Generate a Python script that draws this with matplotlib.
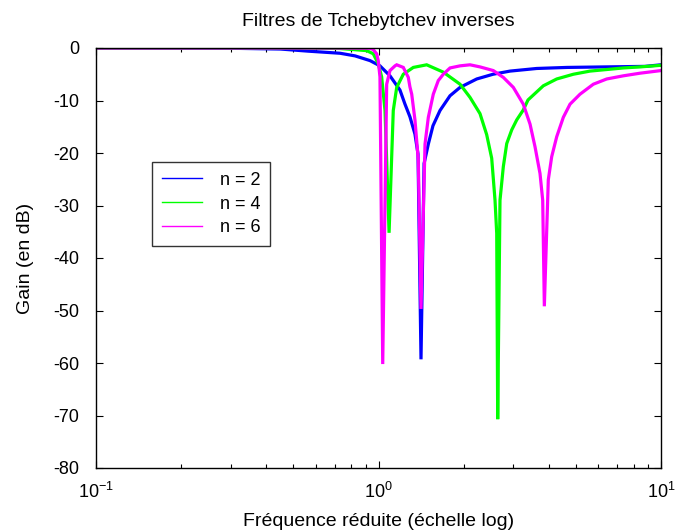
import matplotlib
matplotlib.use("Agg")
import matplotlib.pyplot as plt
from matplotlib.ticker import LogLocator

plt.rcParams['font.family'] = ['Liberation Sans', 'DejaVu Sans']
plt.rcParams['axes.unicode_minus'] = False

title = "Filtres de Tchebytchev inverses"
xlabel = "Fréquence réduite (échelle log)"
ylabel = "Gain (en dB)"
labels = ["n = 2", "n = 4", "n = 6"]
colors = ["#0000ff", "#00ff00", "#ff00ff"]

# n = 2
f2 = [0.1, 0.3, 0.45, 0.563, 0.731, 0.826, 0.933, 1.012, 1.098, 1.191, 1.241,
      1.292, 1.346, 1.380, 1.414, 1.45, 1.501, 1.559, 1.651, 1.791, 1.944,
      2.227, 2.543, 2.921, 3.631, 4.649, 8.778, 10.0]
g2 = [0.0, -0.05, -0.2, -0.6, -1.0, -1.5, -2.4, -3.4, -5.3, -8.0, -10.7,
      -13.1, -16.4, -20.2, -59.3, -22.0, -18.3, -14.8, -11.9, -9.1, -7.5,
      -5.9, -5.0, -4.4, -3.9, -3.7, -3.5, -3.2]

# n = 4
f4 = [0.1, 0.5, 0.731, 0.908, 0.958, 0.998, 1.026, 1.0545, 1.09, 1.128, 1.160,
      1.224, 1.328, 1.481, 1.696, 1.944, 2.108, 2.287, 2.415, 2.516, 2.585,
      2.621, 2.642, 2.692, 2.766, 2.844, 2.962, 3.085, 3.255, 3.382, 3.832,
      4.274, 4.894, 5.606, 6.424, 7.355, 8.428, 10.0]
g4 = [0.0, 0.0, -0.1, -0.5, -1.1, -3.0, -5.5, -11.9, -35.2, -11.9, -7.5,
      -5.0, -3.7, -3.2, -4.6, -6.9, -9.4, -12.5, -16.5, -21.0, -29.0,
      -35.3, -70.7, -29.0, -22.6, -18.2, -15.6, -13.7, -11.8, -9.9, -7.2,
      -5.9, -5.0, -4.4, -4.1, -3.8, -3.6, -3.3]

# n = 6
f6 = [0.1, 0.7, 0.933, 0.958, 0.985, 0.998, 1.012, 1.035, 1.069, 1.098, 1.144,
      1.160, 1.224, 1.275, 1.292, 1.311, 1.346, 1.383, 1.414, 1.461, 1.501,
      1.563, 1.628, 1.696, 1.791, 1.944, 2.108, 2.287, 2.549, 2.766, 3.001,
      3.255, 3.439, 3.581, 3.730, 3.813, 3.864, 3.991, 4.103, 4.274, 4.511,
      4.764, 5.168, 5.760, 6.424, 7.355, 8.428, 10.0]
g6 = [0.0, 0.0, -0.05, -0.3, -1.1, -2.4, -5.5, -60.2, -6.9, -4.3, -3.4,
      -3.2, -3.7, -5.6, -7.4, -8.8, -13.7, -21.3, -49.7, -18.3, -13.2,
      -8.8, -6.2, -5.0, -3.8, -3.4, -3.2, -3.6, -4.3, -5.6, -7.5,
      -10.7, -14.5, -18.8, -23.9, -29.0, -49.2, -25.1, -20.7, -16.9, -13.2,
      -10.7, -8.8, -6.9, -5.9, -5.3, -4.8, -4.3]

yticks = [0, -10, -20, -30, -40, -50, -60, -70, -80]

fig = plt.figure(figsize=(6.89, 5.32), dpi=100)
ax = fig.add_axes([96/689, 64/532, 565/689, 420/532])

for f, g, c, lab in zip([f2, f4, f6], [g2, g4, g6], colors, labels):
    ax.plot(f, g, color=c, lw=2.3, label=lab, solid_joinstyle='miter')

ax.set_xscale('log')
ax.set_xlim(0.1, 10)
ax.set_ylim(-80, 0)
ax.set_yticks(yticks)
ax.set_yticklabels([str(v) for v in yticks])
ax.xaxis.set_major_locator(LogLocator(base=10, numticks=5))
ax.xaxis.set_minor_locator(LogLocator(base=10, subs=range(2, 10), numticks=20))
ax.tick_params(which='both', direction='in', top=True, right=True,
               labelsize=13, width=0.8, color='black')
ax.tick_params(which='major', length=5)
ax.tick_params(which='minor', length=3)
ax.tick_params(axis='y', which='major', pad=12)
ax.tick_params(axis='x', which='major', pad=10)
for s in ax.spines.values():
    s.set_linewidth(1.0)

ax.set_title(title, fontsize=14, pad=16)
ax.set_xlabel(xlabel, fontsize=14, labelpad=8)
ax.set_ylabel(ylabel, fontsize=14, labelpad=14)

leg = ax.legend(loc='upper left', bbox_to_anchor=(0.099, 0.729), fontsize=13,
                frameon=True, fancybox=False, shadow=False, edgecolor='black',
                handlelength=2.2, borderpad=0.55, labelspacing=0.38,
                handletextpad=1.0, borderaxespad=0)
leg.get_frame().set_linewidth(1.0)
for l in leg.get_lines():
    l.set_linewidth(1.0)

fig.savefig("out.png", dpi=100)
